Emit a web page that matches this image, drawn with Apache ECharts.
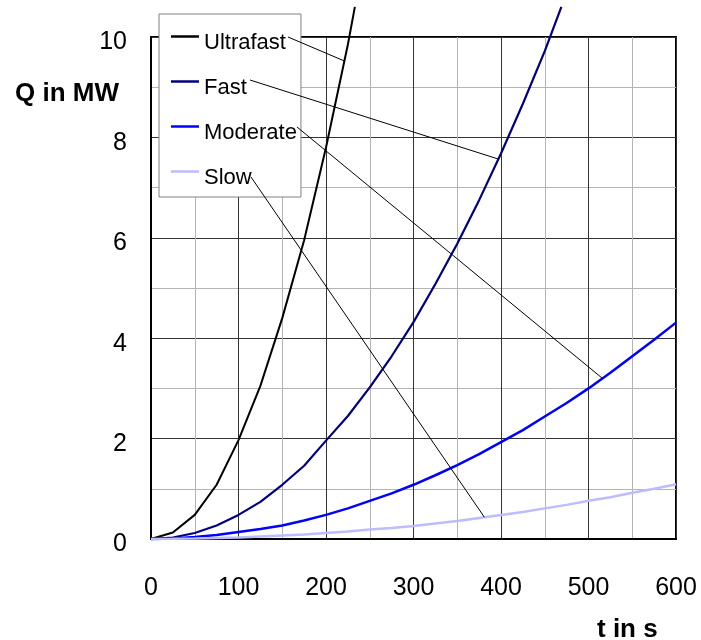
<!DOCTYPE html>
<html><head><meta charset="utf-8">
<script src="https://cdn.jsdelivr.net/npm/echarts@6/dist/echarts.min.js"></script>
<style>html,body{margin:0;padding:0;background:#fff}#c{width:701px;height:640px}</style>
</head><body><div id="c"></div>
<script>
// ---- data ----
const seriesNames = ['Ultrafast', 'Fast', 'Moderate', 'Slow'];
const ultrafastT = [0, 25, 50, 75, 100, 125, 150, 175, 200, 225, 233];
const ultrafastQ = [0, 0.13, 0.48, 1.08, 1.97, 3.05, 4.4, 5.95, 7.8, 9.85, 10.6];
const fastT = [0, 25, 50, 75, 100, 125, 150, 175, 200, 225, 250, 275, 300, 325, 350, 375, 400, 425, 450, 469];
const fastQ = [0, 0.03, 0.12, 0.27, 0.48, 0.74, 1.08, 1.46, 1.96, 2.45, 3.02, 3.64, 4.32, 5.08, 5.88, 6.75, 7.68, 8.67, 9.72, 10.6];
const moderateT = [0, 25, 50, 75, 100, 125, 150, 175, 200, 225, 250, 275, 300, 325, 350, 375, 400, 425, 450, 475, 500, 525, 550, 575, 600];
const moderateQ = [0, 0.01, 0.04, 0.08, 0.14, 0.2, 0.27, 0.37, 0.48, 0.61, 0.76, 0.91, 1.08, 1.27, 1.47, 1.69, 1.93, 2.17, 2.44, 2.71, 3.0, 3.31, 3.64, 3.97, 4.31];
const slowT = [0, 25, 50, 75, 100, 125, 150, 175, 200, 225, 250, 275, 300, 325, 350, 375, 400, 425, 450, 475, 500, 525, 550, 575, 600];
const slowQ = [0, 0.003, 0.01, 0.02, 0.03, 0.05, 0.07, 0.09, 0.12, 0.15, 0.19, 0.22, 0.26, 0.31, 0.36, 0.42, 0.48, 0.54, 0.61, 0.68, 0.76, 0.83, 0.92, 1.0, 1.09];
const xTicks = [0, 100, 200, 300, 400, 500, 600];
const yTicks = [0, 2, 4, 6, 8, 10];
const xTitle = 't in s';
const yTitle = 'Q in MW';
// times on each curve where the legend's leader line ends
const leaderT = [221, 397, 516, 381];

// ---- build ----
const allT = [ultrafastT, fastT, moderateT, slowT];
const allQ = [ultrafastQ, fastQ, moderateQ, slowQ];
const colors = ['#000000', '#000080', '#0000ff', '#bcbcff'];
const widths = [2, 2.2, 2.5, 2.5];
const FONT = 'Liberation Sans, Arial, sans-serif';

function pairs(ts, qs) { return ts.map((t, i) => [t, qs[i]]); }
function interp(ts, qs, t) {
  for (let i = 1; i < ts.length; i++) {
    if (t <= ts[i]) {
      const f = (t - ts[i - 1]) / (ts[i] - ts[i - 1]);
      return qs[i - 1] + f * (qs[i] - qs[i - 1]);
    }
  }
  return qs[qs.length - 1];
}

const chart = echarts.init(document.getElementById('c'), null, { renderer: 'canvas' });
const option = {
  animation: false,
  backgroundColor: '#ffffff',
  textStyle: { fontFamily: FONT },
  grid: { left: 151, top: 37, width: 525, height: 502, show: true, borderColor: '#000', borderWidth: 2, backgroundColor: 'transparent' },
  xAxis: {
    type: 'value', min: xTicks[0], max: xTicks[xTicks.length - 1], interval: xTicks[1] - xTicks[0],
    axisLine: { show: true, lineStyle: { color: '#000', width: 2 } },
    axisTick: { show: false },
    axisLabel: { fontSize: 25, color: '#000', fontFamily: FONT, margin: 37 },
    splitLine: { show: true, lineStyle: { color: '#333', width: 1 } },
    minorTick: { show: false, splitNumber: 2 },
    minorSplitLine: { show: true, lineStyle: { color: '#b4b4b4', width: 1 } }
  },
  yAxis: {
    type: 'value', min: yTicks[0], max: yTicks[yTicks.length - 1], interval: yTicks[1] - yTicks[0],
    axisLine: { show: true, lineStyle: { color: '#000', width: 2 } },
    axisTick: { show: false },
    axisLabel: {
      color: '#000', margin: 24,
      formatter: v => '{v|' + v + '}',
      rich: { v: { fontSize: 25, color: '#000', fontFamily: FONT, lineHeight: 25, padding: [11, 0, 0, 0] } }
    },
    splitLine: { show: true, lineStyle: { color: '#333', width: 1 } },
    minorTick: { show: false, splitNumber: 2 },
    minorSplitLine: { show: true, lineStyle: { color: '#b4b4b4', width: 1 } }
  },
  legend: {
    data: seriesNames, orient: 'vertical', left: 159, top: 14,
    padding: [5.5, 4, 8.5, 12], itemGap: 11,
    icon: 'rect', itemWidth: 28, itemHeight: 2.5,
    backgroundColor: '#fff', borderColor: '#808080', borderWidth: 1, borderRadius: 0,
    formatter: n => '{t|' + n + '}',
    textStyle: {
      fontSize: 22, color: '#000', fontFamily: FONT,
      rich: { t: { fontSize: 22, color: '#000', fontFamily: FONT, lineHeight: 22, padding: [12, 0, 0, 0] } }
    },
    selectedMode: false
  },
  series: seriesNames.map((n, i) => ({
    name: n, type: 'line', data: pairs(allT[i], allQ[i]), showSymbol: false, symbol: 'none',
    clip: false, smooth: false,
    itemStyle: { color: colors[i] },
    lineStyle: { color: colors[i], width: widths[i] }, z: 3
  })),
  graphic: []
};
chart.setOption(option);

// titles and leader lines
const starts = [[288, 37], [250, 80], [297, 127], [251, 177]];
const graphics = [
  { type: 'text', left: 15, top: 81, z: 100, style: { text: yTitle, font: 'bold 26px ' + FONT, fill: '#000' } },
  { type: 'text', left: 597, top: 617, z: 100, style: { text: xTitle, font: 'bold 26px ' + FONT, fill: '#000' } }
];
seriesNames.forEach((n, i) => {
  const q = interp(allT[i], allQ[i], leaderT[i]);
  const p = chart.convertToPixel({ gridIndex: 0 }, [leaderT[i], q]);
  graphics.push({ type: 'line', z: 100, shape: { x1: starts[i][0], y1: starts[i][1], x2: p[0], y2: p[1] }, style: { stroke: '#000', lineWidth: 1 } });
});
chart.setOption({ graphic: graphics });
</script></body></html>
